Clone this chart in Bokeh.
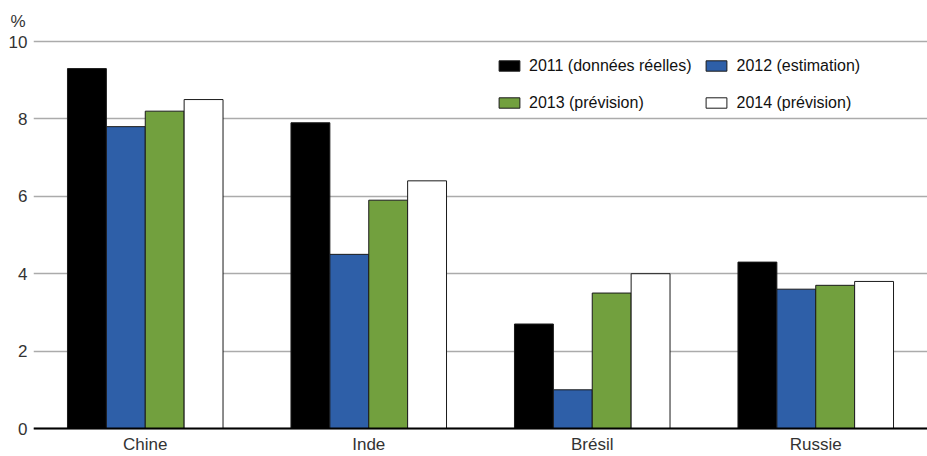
from bokeh.plotting import figure
from bokeh.models import ColumnDataSource, Legend, LegendItem, FactorRange, FixedTicker
from bokeh.transform import dodge
from bokeh.embed import file_html
from bokeh.resources import INLINE

countries = ["Chine", "Inde", "Brésil", "Russie"]
series_labels = ["2011 (données réelles)", "2012 (estimation)", "2013 (prévision)", "2014 (prévision)"]
v2011 = [9.3, 7.9, 2.7, 4.3]
v2012 = [7.8, 4.5, 1.0, 3.6]
v2013 = [8.2, 5.9, 3.5, 3.7]
v2014 = [8.5, 6.4, 4.0, 3.8]
colors = ["#000000", "#2e5fa8", "#72a03e", "#ffffff"]
y_ticks = [0, 2, 4, 6, 8, 10]

src = ColumnDataSource(dict(c=countries, a=v2011, b=v2012, d=v2013, e=v2014))

FONT = "Liberation Sans"

p = figure(x_range=FactorRange(*countries, range_padding=0), y_range=(-0.7235, 10.052),
           width=927, height=456, output_backend="svg", toolbar_location=None,
           min_border_left=33, min_border_right=0, min_border_top=39, min_border_bottom=0)

bw = 0.174
offsets = [-1.5 * bw, -0.5 * bw, 0.5 * bw, 1.5 * bw]
renderers = []
for col, off, colr in zip(["a", "b", "d", "e"], offsets, colors):
    r = p.vbar(x=dodge("c", off, range=p.x_range), top=col, width=bw, source=src,
               fill_color=colr, line_color="#1a1a1a", line_width=1)
    renderers.append(r)

p.title.text = "%"
p.title.text_font = FONT
p.title.text_font_size = "17px"
p.title.text_font_style = "normal"
p.title.text_color = "#333333"
p.title.align = "left"
p.title.offset = -23
p.title.standoff = 17

p.xgrid.grid_line_color = None
p.ygrid.ticker = FixedTicker(ticks=y_ticks)
p.ygrid.grid_line_color = "#ababab"
p.ygrid.grid_line_width = 1.5
p.yaxis.ticker = FixedTicker(ticks=y_ticks)
p.yaxis.axis_line_color = None
p.yaxis.major_tick_line_color = None
p.yaxis.major_tick_out = 0
p.yaxis.major_tick_in = 0
p.yaxis.minor_tick_line_color = None
p.yaxis.major_label_text_font = FONT
p.yaxis.major_label_text_font_size = "17px"
p.yaxis.major_label_text_color = "#333333"
p.yaxis.major_label_standoff = 6

p.xaxis.fixed_location = 0
p.xaxis.axis_line_color = "#000000"
p.xaxis.axis_line_width = 2
p.xaxis.major_tick_line_color = None
p.xaxis.major_tick_out = 0
p.xaxis.major_tick_in = 0
p.xaxis.minor_tick_line_color = None
p.xaxis.major_label_text_font = FONT
p.xaxis.major_label_text_font_size = "17px"
p.xaxis.major_label_text_color = "#333333"
p.xaxis.major_label_standoff = 6
p.outline_line_color = None

items = [LegendItem(label=l, renderers=[r]) for l, r in zip(series_labels, renderers)]
legend = Legend(items=items, location=(463, 341), orientation="horizontal", nrows=2,
                glyph_width=26, glyph_height=13, label_height=25, label_standoff=7,
                spacing=12, padding=3, label_text_font=FONT, label_text_font_size="16px",
                label_text_color="#111111", border_line_color=None,
                background_fill_color="#ffffff", background_fill_alpha=1.0)
p.add_layout(legend)

open("out.html", "w").write(file_html(p, INLINE))
